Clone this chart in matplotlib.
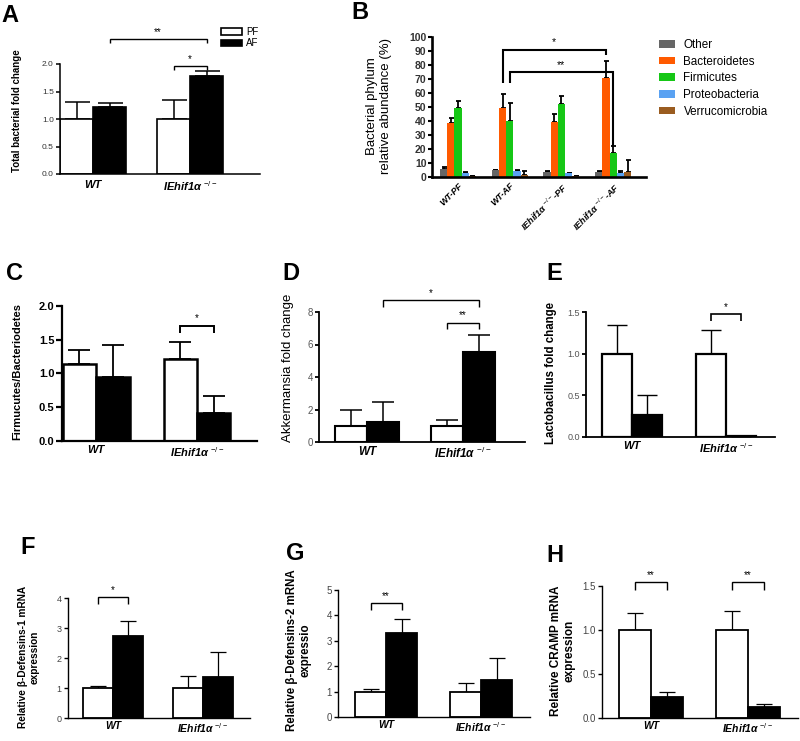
import matplotlib
matplotlib.use('Agg')
import matplotlib.pyplot as plt
import numpy as np

plt.rcParams['font.family'] = ['Liberation Sans', 'DejaVu Sans']
plt.rcParams['mathtext.fontset'] = 'custom'
plt.rcParams['mathtext.rm'] = 'Liberation Sans'
plt.rcParams['mathtext.it'] = 'Liberation Sans:italic'
plt.rcParams['mathtext.bf'] = 'Liberation Sans:bold'

# ---------------- data ----------------
groups = ['WT', 'IEhif1α $^{-/-}$']
treatments = ['PF', 'AF']

# A total bacterial fold change
total_pf = [1.00, 1.00]
total_pf_err = [0.31, 0.35]
total_af = [1.21, 1.79]
total_af_err = [0.09, 0.09]

# B phylum relative abundance (%)
b_samples = ['WT-PF', 'WT-AF', 'IEhif1α $^{-/-}$-PF', 'IEhif1α $^{-/-}$-AF']
phyla = ['Other', 'Bacteroidetes', 'Firmicutes', 'Proteobacteria', 'Verrucomicrobia']
other = [5.5, 4.8, 3.5, 3.5]
other_err = [1.5, 0.5, 0.5, 0.5]
bacteroidetes = [38.8, 49.3, 39.0, 70.7]
bacteroidetes_err = [3.6, 10.2, 6.0, 12.3]
firmicutes = [49.3, 40.0, 52.0, 17.0]
firmicutes_err = [4.7, 12.8, 5.5, 5.0]
proteobacteria = [3.0, 4.0, 2.6, 2.6]
proteobacteria_err = [0.8, 1.2, 0.5, 1.5]
verrucomicrobia = [0.6, 1.4, 0.4, 3.8]
verrucomicrobia_err = [0.3, 2.9, 0.2, 8.2]
phylum_colors = ['#666666', '#FF5A00', '#16C716', '#5AA2F2', '#9A5C20']

# C Firmicutes/Bacteroidetes
fb_pf = [1.14, 1.21]
fb_pf_err = [0.21, 0.25]
fb_af = [0.95, 0.42]
fb_af_err = [0.47, 0.25]

# D Akkermansia
akk_pf = [1.00, 1.00]
akk_pf_err = [1.00, 0.38]
akk_af = [1.24, 5.53]
akk_af_err = [1.21, 1.03]

# E Lactobacillus
lac_pf = [1.00, 1.00]
lac_pf_err = [0.35, 0.28]
lac_af = [0.27, 0.01]
lac_af_err = [0.24, 0.0]

# F beta-defensin-1
def1_pf = [1.00, 1.00]
def1_pf_err = [0.06, 0.39]
def1_af = [2.72, 1.37]
def1_af_err = [0.51, 0.82]

# G beta-defensin-2
def2_pf = [1.00, 1.00]
def2_pf_err = [0.10, 0.32]
def2_af = [3.29, 1.44]
def2_af_err = [0.55, 0.89]

# H CRAMP
cramp_pf = [1.00, 1.00]
cramp_pf_err = [0.19, 0.22]
cramp_af = [0.24, 0.12]
cramp_af_err = [0.06, 0.04]

# ---------------- figure ----------------
W, H = 800, 741
fig = plt.figure(figsize=(8, 7.41), dpi=100)


def add_ax(left, top, right, bottom):
    return fig.add_axes([left / W, 1 - bottom / H, (right - left) / W, (bottom - top) / H])


def fig_xy(px, py):
    return px / W, 1 - py / H


def bracket(ax, x1, x2, y, d1, d2, text, lw=1.0, fs=7):
    ax.plot([x1, x1, x2, x2], [y - d1, y, y, y - d2], color='black', lw=lw,
            clip_on=False, solid_capstyle='butt', solid_joinstyle='miter')
    ax.annotate(text, xy=((x1 + x2) / 2, y), xytext=(0, 1.5), textcoords='offset points',
                ha='center', va='bottom', fontsize=fs, annotation_clip=False)


def bar_panel(box, ymax, yticks, cx, bw, pf, pf_err, af, af_err, fmt,
              spine_lw=1.0, edge_lw=1.2, err_lw=1.0, capsize=6, tick_fs=6.5,
              tick_color='#333333', tick_bold=False, xl_fs=8, xl_pad=3, tick_len=3):
    left, top, right, bottom = box
    ax = add_ax(*box)
    unit = cx[1] - cx[0]
    w = bw / unit
    pos = np.arange(len(groups))
    ax.bar(pos - w / 2, pf, w, color='white', edgecolor='black', lw=edge_lw,
           label=treatments[0], zorder=2)
    ax.bar(pos + w / 2, af, w, color='black', edgecolor='black', lw=edge_lw,
           label=treatments[1], zorder=2)
    ax.errorbar(pos - w / 2, pf, yerr=[np.zeros(len(pf)), pf_err], fmt='none',
                ecolor='black', elinewidth=err_lw, capsize=capsize, capthick=err_lw, zorder=1)
    ax.errorbar(pos + w / 2, af, yerr=[np.zeros(len(af)), af_err], fmt='none',
                ecolor='black', elinewidth=err_lw, capsize=capsize, capthick=err_lw, zorder=1)
    ax.set_xlim((left - cx[0]) / unit, (right - cx[0]) / unit)
    ax.set_ylim(0, ymax)
    ax.set_yticks(yticks)
    ax.set_yticklabels([fmt.format(t) for t in yticks])
    for s in ['top', 'right']:
        ax.spines[s].set_visible(False)
    for s in ['left', 'bottom']:
        ax.spines[s].set_linewidth(spine_lw)
    ax.tick_params(axis='y', direction='out', length=tick_len, width=spine_lw,
                   labelsize=tick_fs, labelcolor=tick_color, pad=1.5)
    if tick_bold:
        for t in ax.get_yticklabels():
            t.set_fontweight('bold')
    ax.set_xticks(pos)
    ax.set_xticklabels(groups, fontstyle='italic', fontweight='bold', fontsize=xl_fs)
    ax.tick_params(axis='x', length=0, pad=xl_pad)
    ax.patch.set_alpha(0)
    return ax, pos, w


def ylabel_at(ax, text, px, py, fs, weight='bold'):
    ax.set_ylabel(text, fontsize=fs, fontweight=weight, va='center', ha='center',
                  multialignment='center', linespacing=1.15)
    ax.yaxis.set_label_coords(*fig_xy(px, py), transform=fig.transFigure)


def letter(t, px, py):
    fig.text(*fig_xy(px, py), t, fontsize=17, fontweight='bold', ha='left', va='top')


# ---- A ----
axA, pos, w = bar_panel((60, 64, 260, 174), 2.0, [0, 0.5, 1.0, 1.5, 2.0], (93, 190), 33,
                        total_pf, total_pf_err, total_af, total_af_err, '{:.1f}',
                        spine_lw=1.1, edge_lw=1.2, err_lw=1.1, capsize=9, tick_fs=6,
                        xl_fs=8, xl_pad=4)
ylabel_at(axA, 'Total bacterial fold change', 17, 111, 7)
bracket(axA, pos[1] - w / 2, pos[1] + w / 2, 1.96, 0.07, 0.07, '*')
bracket(axA, pos[0] + w / 2, pos[1] + w / 2, 2.46, 0.07, 0.07, '**')
axA.legend(loc='upper left', bbox_to_anchor=fig_xy(221, 27), bbox_transform=fig.transFigure,
           frameon=False, fontsize=7, handlelength=2.2, handleheight=0.65,
           handletextpad=0.35, labelspacing=0.12, borderpad=0, borderaxespad=0)
letter('A', 1, 4)

# ---- B ----
axB = add_ax(432, 37, 646, 177)
cB = (458, 509.7)
unitB = cB[1] - cB[0]
bwB = 7.2 / unitB
posB = np.arange(len(b_samples))
b_vals = [other, bacteroidetes, firmicutes, proteobacteria, verrucomicrobia]
b_errs = [other_err, bacteroidetes_err, firmicutes_err, proteobacteria_err, verrucomicrobia_err]
for k, (name, vals, errs, col) in enumerate(zip(phyla, b_vals, b_errs, phylum_colors)):
    xk = posB + (k - 2) * bwB
    axB.bar(xk, vals, bwB, color=col, label=name, zorder=2)
    axB.errorbar(xk, vals, yerr=[np.zeros(len(vals)), errs], fmt='none', ecolor='black',
                 elinewidth=1.3, capsize=1.8, capthick=1.3, zorder=1)
axB.set_xlim((432 - cB[0]) / unitB, (646 - cB[0]) / unitB)
axB.set_ylim(0, 100)
axB.set_yticks(np.arange(0, 101, 10))
for s in ['top', 'right']:
    axB.spines[s].set_visible(False)
for s in ['left', 'bottom']:
    axB.spines[s].set_linewidth(1.9)
axB.tick_params(axis='y', direction='out', length=3, width=1.5, labelsize=7.5,
                labelcolor='#333333', pad=1)
for t in axB.get_yticklabels():
    t.set_fontweight('bold')
axB.set_xticks(posB)
axB.set_xticklabels(b_samples, rotation=45, ha='right', va='top', rotation_mode='anchor',
                    fontstyle='italic', fontweight='bold', fontsize=6.5)
axB.tick_params(axis='x', length=0, pad=3)
ylabel_at(axB, 'Bacterial phylum\nrelative abundance (%)', 379, 106, 9.5, weight='normal')
xa = posB[1] - bwB
xb = posB[3] - bwB
xc = posB[1]
xd = posB[3]
bracket(axB, xa, xb, 91, 24, 4, '*', lw=1.5, fs=7.5)
bracket(axB, xc, xd, 75, 8, 53, '**', lw=1.5, fs=7.5)
axB.legend(loc='upper left', bbox_to_anchor=fig_xy(659, 39), bbox_transform=fig.transFigure,
           frameon=False, fontsize=8.4, handlelength=1.4, handleheight=0.62,
           handletextpad=0.7, labelspacing=0.40, borderpad=0, borderaxespad=0)
letter('B', 351, 1)

# ---- C ----
axC, pos, w = bar_panel((62, 306, 257, 441), 2.0, [0, 0.5, 1.0, 1.5, 2.0], (96, 197), 33.5,
                        fb_pf, fb_pf_err, fb_af, fb_af_err, '{:.1f}',
                        spine_lw=1.6, edge_lw=1.8, err_lw=1.3, capsize=8, tick_fs=8,
                        tick_color='black', tick_bold=True, xl_fs=8, xl_pad=3, tick_len=4)
ylabel_at(axC, 'Firmucutes/Bacteriodetes', 17, 372, 8)
bracket(axC, pos[1] - w / 2, pos[1] + w / 2, 1.71, 0.11, 0.11, '*', lw=1.4)
letter('C', 6, 262)

# ---- D ----
axD, pos, w = bar_panel((319, 312, 525, 442), 8, [0, 2, 4, 6, 8], (367, 463), 32,
                        akk_pf, akk_pf_err, akk_af, akk_af_err, '{:.0f}',
                        spine_lw=1.3, edge_lw=1.5, err_lw=1.1, capsize=8, tick_fs=7,
                        tick_color='#555555', xl_fs=8.5, xl_pad=3)
ylabel_at(axD, 'Akkermansia fold change', 288, 368, 9.5, weight='normal')
bracket(axD, pos[1] - w / 2, pos[1] + w / 2, 7.35, 0.4, 0.4, '**')
bracket(axD, pos[0] + w / 2, pos[1] + w / 2, 8.75, 0.42, 0.42, '*')
letter('D', 282, 262)

# ---- E ----
axE, pos, w = bar_panel((586, 312, 775, 437), 1.5, [0, 0.5, 1.0, 1.5], (632, 726), 30,
                        lac_pf, lac_pf_err, lac_af, lac_af_err, '{:.1f}',
                        spine_lw=1.3, edge_lw=1.6, err_lw=1.0, capsize=7, tick_fs=6.5,
                        tick_color='#555555', xl_fs=8, xl_pad=3)
ylabel_at(axE, 'Lactobacillus fold change', 551, 373, 8.3)
bracket(axE, pos[1] - w / 2, pos[1] + w / 2, 1.48, 0.09, 0.09, '*', lw=1.2)
letter('E', 546, 262)

# ---- F ----
axF, pos, w = bar_panel((68, 598, 250, 718), 4, [0, 1, 2, 3, 4], (113, 203), 30,
                        def1_pf, def1_pf_err, def1_af, def1_af_err, '{:.0f}',
                        spine_lw=1.0, edge_lw=1.3, err_lw=0.9, capsize=6, tick_fs=6.5,
                        tick_color='#444444', xl_fs=7.5, xl_pad=2.5)
ylabel_at(axF, 'Relative β-Defensins-1 mRNA\nexpression', 29, 657, 7.3)
bracket(axF, pos[0] - w / 2, pos[0] + w / 2, 4.02, 0.22, 0.22, '*')
letter('F', 20, 536)

# ---- G ----
axG, pos, w = bar_panel((338, 590, 530, 717), 5, [0, 1, 2, 3, 4, 5], (386, 481), 31,
                        def2_pf, def2_pf_err, def2_af, def2_af_err, '{:.0f}',
                        spine_lw=1.0, edge_lw=1.3, err_lw=0.9, capsize=6, tick_fs=7,
                        tick_color='#444444', xl_fs=7.5, xl_pad=2.5)
ylabel_at(axG, 'Relative β-Defensins-2 mRNA\nexpressio', 299, 650, 8.3)
bracket(axG, pos[0] - w / 2, pos[0] + w / 2, 4.49, 0.26, 0.26, '**')
letter('G', 286, 542)

# ---- H ----
axH, pos, w = bar_panel((602, 586, 798, 718), 1.5, [0, 0.5, 1.0, 1.5], (651, 748), 32,
                        cramp_pf, cramp_pf_err, cramp_af, cramp_af_err, '{:.1f}',
                        spine_lw=1.0, edge_lw=1.3, err_lw=0.9, capsize=6, tick_fs=7,
                        tick_color='#444444', xl_fs=7.5, xl_pad=2.5)
ylabel_at(axH, 'Relative CRAMP mRNA\nexpression', 563, 651, 8.5)
bracket(axH, pos[0] - w / 2, pos[0] + w / 2, 1.545, 0.095, 0.095, '**')
bracket(axH, pos[1] - w / 2, pos[1] + w / 2, 1.545, 0.095, 0.095, '**')
letter('H', 546, 544)

fig.savefig('out.png', dpi=100)
